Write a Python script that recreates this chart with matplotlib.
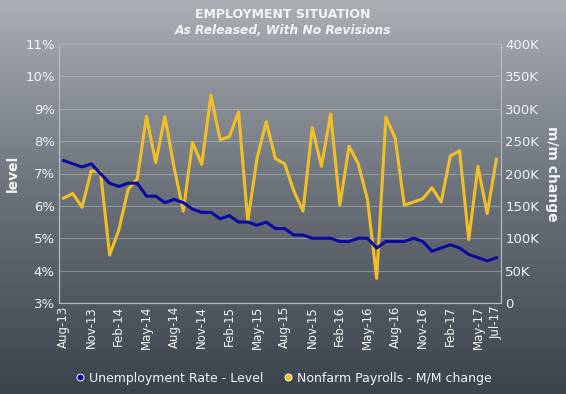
import matplotlib
matplotlib.use("Agg")
import matplotlib.pyplot as plt
import numpy as np
from matplotlib.colors import LinearSegmentedColormap
from matplotlib.lines import Line2D

# release months Aug-13 .. Jul-17 (as released, no revisions)
months = ["Aug-13", "Sep-13", "Oct-13", "Nov-13", "Dec-13", "Jan-14", "Feb-14", "Mar-14",
          "Apr-14", "May-14", "Jun-14", "Jul-14", "Aug-14", "Sep-14", "Oct-14", "Nov-14",
          "Dec-14", "Jan-15", "Feb-15", "Mar-15", "Apr-15", "May-15", "Jun-15", "Jul-15",
          "Aug-15", "Sep-15", "Oct-15", "Nov-15", "Dec-15", "Jan-16", "Feb-16", "Mar-16",
          "Apr-16", "May-16", "Jun-16", "Jul-16", "Aug-16", "Sep-16", "Oct-16", "Nov-16",
          "Dec-16", "Jan-17", "Feb-17", "Mar-17", "Apr-17", "May-17", "Jun-17", "Jul-17"]
unemp = [7.4, 7.3, 7.2, 7.3, 7.0, 6.7, 6.6, 6.7, 6.7, 6.3, 6.3, 6.1, 6.2, 6.1, 5.9, 5.8,
         5.8, 5.6, 5.7, 5.5, 5.5, 5.4, 5.5, 5.3, 5.3, 5.1, 5.1, 5.0, 5.0, 5.0, 4.9, 4.9,
         5.0, 5.0, 4.7, 4.9, 4.9, 4.9, 5.0, 4.9, 4.6, 4.7, 4.8, 4.7, 4.5, 4.4, 4.3, 4.4]
payrolls = [162, 169, 148, 204, 203, 74, 113, 175, 192, 288, 217, 288, 209, 142, 248, 214,
            321, 252, 257, 295, 126, 223, 280, 223, 215, 173, 142, 271, 211, 292, 151, 242,
            215, 160, 38, 287, 255, 151, 156, 161, 178, 156, 227, 235, 98, 211, 138, 222]
tick_idx = list(range(0, 46, 3)) + [47]

C_BLUE = "#0a0aa0"
C_GOLD = "#f2c025"
C_TXT = "#f4f4f4"
C_GRID = "#b8bcc0"

fig = plt.figure(figsize=(5.66, 3.94), dpi=100)

# background gradient
bg = fig.add_axes([0, 0, 1, 1], zorder=-10)
cmap = LinearSegmentedColormap.from_list("bg", ["#3b434c", "#6a7078", "#aaafb4"])
bg.imshow(np.linspace(0, 1, 256).reshape(-1, 1), aspect="auto", cmap=cmap,
          origin="lower", extent=[0, 1, 0, 1])
bg.axis("off")

ax = fig.add_axes([59 / 566, 91 / 394, 442 / 566, 259 / 394])
ax.patch.set_alpha(0)
ax2 = ax.twinx()

x = np.arange(len(months))
ax.plot(x, unemp, color=C_BLUE, lw=2.2, zorder=3)
ax2.plot(x, payrolls, color=C_GOLD, lw=2.2, zorder=2)
ax.set_zorder(ax2.get_zorder() + 1)
ax.patch.set_visible(False)

ax.set_xlim(-0.5, len(months) - 0.5)
ax.set_ylim(3, 11)
ax2.set_ylim(0, 400)
ax.set_yticks(range(3, 12))
ax.set_yticklabels([f"{v}%" for v in range(3, 12)])
ax2.set_yticks(range(0, 401, 50))
ax2.set_yticklabels(["0"] + [f"{v}K" for v in range(50, 401, 50)])
ax.set_xticks(tick_idx)
ax.set_xticklabels([months[i] for i in tick_idx], rotation=90)

ax.grid(axis="y", color=C_GRID, lw=0.8, alpha=0.5)
for a in (ax, ax2):
    a.tick_params(colors=C_TXT, labelsize=9.5, length=0, pad=3)
    for s in a.spines.values():
        s.set_color(C_GRID)
        s.set_linewidth(0.8)
    a.spines["top"].set_visible(False)
ax.tick_params(axis="x", labelsize=8.5, pad=2)

ax.set_ylabel("level", color=C_TXT, fontsize=10, fontweight="bold", labelpad=4)
ax2.set_ylabel("m/m change", color=C_TXT, fontsize=10, fontweight="bold",
               rotation=270, labelpad=14)

fig.text(0.5, 0.962, "EMPLOYMENT SITUATION", ha="center", va="center",
         color=C_TXT, fontsize=9, fontweight="bold")
fig.text(0.5, 0.922, "As Released, With No Revisions", ha="center", va="center",
         color=C_TXT, fontsize=8.8, fontweight="bold", fontstyle="italic")

handles = [Line2D([], [], ls="none", marker="o", ms=5, mfc=C_BLUE, mec="white", mew=0.7),
           Line2D([], [], ls="none", marker="o", ms=5, mfc=C_GOLD, mec="white", mew=0.7)]
fig.legend(handles, ["Unemployment Rate - Level", "Nonfarm Payrolls - M/M change"],
           loc="center", bbox_to_anchor=(0.5, 0.04), ncol=2, frameon=False,
           fontsize=9, labelcolor=C_TXT, handletextpad=0.2, columnspacing=1.5,
           handlelength=1.0)

fig.savefig("out.png", dpi=100)
